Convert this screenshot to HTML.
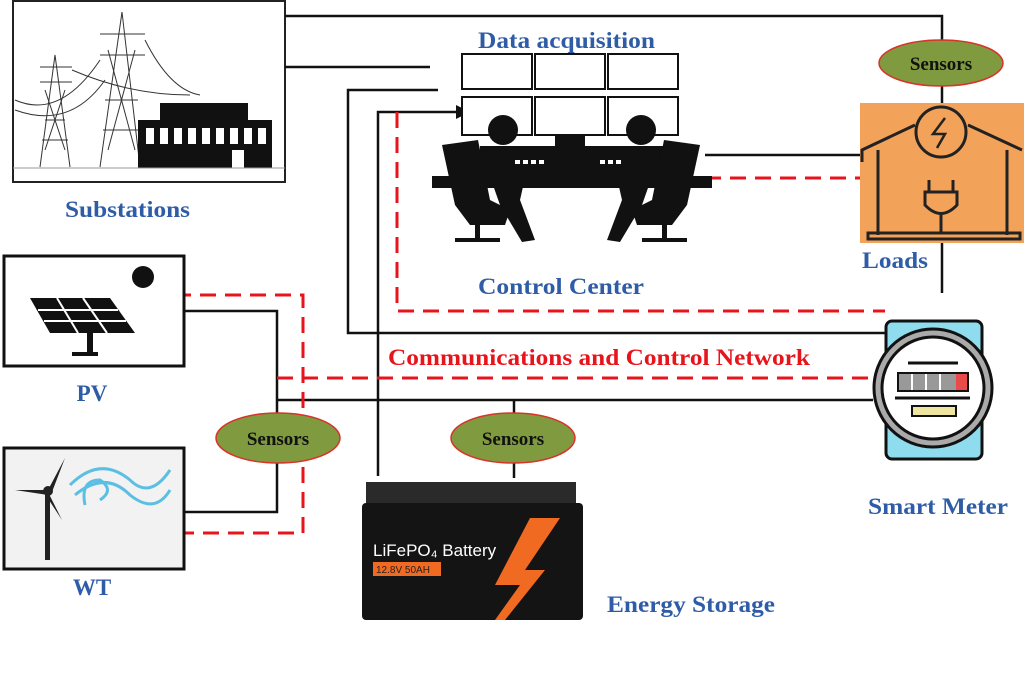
<!DOCTYPE html>
<html><head><meta charset="utf-8"><style>
html,body{margin:0;padding:0;background:#fff;}
svg{display:block}
.lb{font-family:"Liberation Serif",serif;font-weight:bold;font-size:23px;fill:#2f5ca6;}
.sn{font-family:"Liberation Serif",serif;font-weight:bold;font-size:19px;fill:#111;}
</style></head><body>
<svg width="1024" height="680" viewBox="0 0 1024 680" xmlns="http://www.w3.org/2000/svg">
<rect width="1024" height="680" fill="#fff"/>
<!-- substation -->
<rect x="13" y="1" width="272" height="181" fill="#fff" stroke="#222" stroke-width="2"/>
<g stroke="#333" stroke-width="1" fill="none">
<path d="M40 167 L55 55 L70 167 M45 120 L65 120 M40 67 L72 67 M40 82 L72 82 M42 140 L68 140"/>
<path d="M100 167 L122 12 L140 167 M100 34 L145 34 M100 55 L145 55 M105 100 L138 100 M103 130 L140 130"/>
<path d="M15 100 Q60 120 100 60 M15 110 Q70 130 105 80 M72 70 Q130 95 190 95 M145 40 Q170 90 200 95"/>
<path d="M45 90 L65 150 M65 90 L45 150 M108 50 L135 150 M135 50 L108 150"/>
</g>
<rect x="138" y="120" width="134" height="48" fill="#111"/>
<rect x="160" y="103" width="88" height="18" fill="#111"/>
<g fill="#fff"><rect x="146" y="128" width="8" height="16"/><rect x="160" y="128" width="8" height="16"/><rect x="174" y="128" width="8" height="16"/><rect x="188" y="128" width="8" height="16"/><rect x="202" y="128" width="8" height="16"/><rect x="216" y="128" width="8" height="16"/><rect x="230" y="128" width="8" height="16"/><rect x="244" y="128" width="8" height="16"/><rect x="258" y="128" width="8" height="16"/><rect x="232" y="150" width="12" height="18"/></g>
<line x1="13" y1="168" x2="285" y2="168" stroke="#999"/>
<text x="65" y="217" textLength="125" lengthAdjust="spacingAndGlyphs" class="lb">Substations</text>

<!-- connectors black -->
<g stroke="#111" stroke-width="2.5" fill="none">
<polyline points="285,16 942,16 942,42"/>
<line x1="942" y1="86" x2="942" y2="103"/>
<line x1="942" y1="243" x2="942" y2="293"/>
<line x1="285" y1="67" x2="430" y2="67"/>
<polyline points="438,90 348,90 348,333 885,333"/>
<polyline points="378,476 378,112 458,112"/>
<line x1="705" y1="155" x2="860" y2="155"/>
<polyline points="185,311 277,311 277,413"/>
<line x1="277" y1="400" x2="873" y2="400"/>
<polyline points="277,463 277,512 185,512"/>
<line x1="514" y1="400" x2="514" y2="413"/>
<line x1="514" y1="463" x2="514" y2="478"/>
</g>
<polygon points="470,112 456,105 456,119" fill="#111"/>
<!-- red dashed -->
<g stroke="#e8141c" stroke-width="3" fill="none" stroke-dasharray="16,9">
<polyline points="397,112 397,311 885,311"/>
<line x1="705" y1="178" x2="860" y2="178"/>
<polyline points="175,295 303,295 303,533 175,533"/>
<line x1="277" y1="378" x2="870" y2="378"/>
</g>

<!-- monitors -->
<g fill="#fff" stroke="#111" stroke-width="2">
<rect x="462" y="54" width="70" height="35"/><rect x="535" y="54" width="70" height="35"/><rect x="608" y="54" width="70" height="35"/>
<rect x="462" y="97" width="70" height="38"/><rect x="535" y="97" width="70" height="38"/><rect x="608" y="97" width="70" height="38"/>
</g>
<g fill="#111">
<rect x="555" y="134" width="30" height="12"/>
<rect x="480" y="146" width="185" height="40"/>
<rect x="432" y="176" width="280" height="12"/>
<circle cx="503" cy="130" r="15"/><circle cx="641" cy="130" r="15"/>
<path d="M442 145 L478 140 L490 200 L510 210 L505 225 L470 225 L455 205 Z"/>
<path d="M700 145 L664 140 L652 200 L632 210 L637 225 L672 225 L687 205 Z"/>
<path d="M480 148 L500 148 L520 170 L545 170 L545 178 L525 178 L520 200 L535 240 L522 242 L500 205 Z"/>
<path d="M662 148 L642 148 L622 170 L597 170 L597 178 L617 178 L622 200 L607 240 L620 242 L642 205 Z"/>
<rect x="475" y="225" width="5" height="15"/><rect x="662" y="225" width="5" height="15"/>
<rect x="455" y="238" width="45" height="4"/><rect x="642" y="238" width="45" height="4"/>
</g>
<g fill="#fff"><rect x="515" y="160" width="5" height="4"/><rect x="523" y="160" width="5" height="4"/><rect x="531" y="160" width="5" height="4"/><rect x="539" y="160" width="5" height="4"/><rect x="600" y="160" width="5" height="4"/><rect x="608" y="160" width="5" height="4"/><rect x="616" y="160" width="5" height="4"/></g>
<text x="478" y="48" textLength="177" lengthAdjust="spacingAndGlyphs" class="lb">Data acquisition</text>
<text x="478" y="294" textLength="166" lengthAdjust="spacingAndGlyphs" class="lb">Control Center</text>

<!-- loads -->
<rect x="860" y="103" width="164" height="140" fill="#f3a25a"/>
<g stroke="#222" stroke-width="3" fill="none">
<circle cx="941" cy="132" r="25"/>
<path d="M862 162 L862 150 L915 125 M968 125 L1022 150"/>
<path d="M878 150 L878 235 M1007 150 L1007 235"/>
<rect x="868" y="233" width="152" height="6"/>
<path d="M929 180 L929 192 M953 180 L953 192 M925 192 L957 192 L957 205 Q941 222 925 205 Z M941 215 L941 233"/>
<path d="M945 118 L933 134 L945 134 L937 148" stroke-width="2.5"/>
</g>
<text x="862" y="268" textLength="66" lengthAdjust="spacingAndGlyphs" class="lb">Loads</text>

<!-- smart meter -->
<rect x="886" y="321" width="96" height="138" rx="6" fill="#8fdcef" stroke="#111" stroke-width="3"/>
<circle cx="933" cy="388" r="59" fill="#aaa" stroke="#111" stroke-width="3"/>
<circle cx="933" cy="388" r="51" fill="#fff" stroke="#111" stroke-width="3"/>
<rect x="898" y="373" width="70" height="18" fill="#999" stroke="#111" stroke-width="2"/>
<rect x="956" y="374" width="11" height="16" fill="#e94a4a"/>
<g stroke="#fff" stroke-width="2"><line x1="912" y1="374" x2="912" y2="390"/><line x1="926" y1="374" x2="926" y2="390"/><line x1="940" y1="374" x2="940" y2="390"/></g>
<line x1="908" y1="363" x2="958" y2="363" stroke="#111" stroke-width="3"/>
<line x1="895" y1="398" x2="970" y2="398" stroke="#111" stroke-width="3"/>
<rect x="912" y="406" width="44" height="10" fill="#eee6a0" stroke="#111" stroke-width="2"/>
<text x="868" y="514" textLength="140" lengthAdjust="spacingAndGlyphs" class="lb">Smart Meter</text>

<!-- PV -->
<rect x="4" y="256" width="180" height="110" fill="#fff" stroke="#111" stroke-width="3"/>
<circle cx="143" cy="277" r="11" fill="#111"/>
<path d="M30 298 L110 298 L135 333 L50 333 Z" fill="#111"/>
<g stroke="#fff" stroke-width="2"><line x1="57" y1="298" x2="78" y2="333"/><line x1="83" y1="298" x2="107" y2="333"/><line x1="38" y1="310" x2="118" y2="310"/><line x1="44" y1="321" x2="126" y2="321"/></g>
<rect x="87" y="333" width="6" height="20" fill="#111"/><rect x="72" y="352" width="26" height="4" fill="#111"/>
<text x="92" y="401" text-anchor="middle" class="lb">PV</text>

<!-- WT -->
<rect x="4" y="448" width="180" height="121" fill="#f2f2f2" stroke="#111" stroke-width="3"/>
<g fill="#222"><rect x="45" y="490" width="5" height="70"/><path d="M48 490 L65 458 L52 492 Z M48 490 L15 490 L48 495 Z M48 492 L62 520 L45 494 Z"/><circle cx="48" cy="491" r="5"/></g>
<g stroke="#5bbfe4" stroke-width="3" fill="none"><path d="M70 485 Q100 455 130 480 Q150 500 170 470"/><path d="M75 495 Q105 470 130 495 Q155 515 170 490"/><path d="M85 505 Q80 480 100 480 Q115 490 100 500"/></g>
<text x="92" y="595" text-anchor="middle" class="lb">WT</text>

<!-- sensors -->
<g fill="#7f9a3f" stroke="#d9332a" stroke-width="1.5">
<ellipse cx="941" cy="63" rx="62" ry="23"/>
<ellipse cx="278" cy="438" rx="62" ry="25"/>
<ellipse cx="513" cy="438" rx="62" ry="25"/>
</g>
<text x="941" y="70" text-anchor="middle" class="sn">Sensors</text>
<text x="278" y="445" text-anchor="middle" class="sn">Sensors</text>
<text x="513" y="445" text-anchor="middle" class="sn">Sensors</text>

<!-- battery -->
<rect x="366" y="482" width="210" height="24" fill="#2a2a2a"/>
<rect x="362" y="503" width="221" height="117" rx="4" fill="#141414"/>
<path d="M530 518 L560 518 L525 570 L545 570 L505 620 L495 620 L520 585 L495 585 Z" fill="#f06a22"/>
<text x="373" y="556" font-family="Liberation Sans,sans-serif" font-size="17" fill="#fff">LiFePO₄ Battery</text>
<rect x="373" y="562" width="68" height="14" fill="#f06a22"/>
<text x="376" y="573" font-family="Liberation Sans,sans-serif" font-size="10" fill="#222">12.8V 50AH</text>
<text x="607" y="612" textLength="168" lengthAdjust="spacingAndGlyphs" class="lb">Energy Storage</text>

<text x="388" y="365" textLength="422" lengthAdjust="spacingAndGlyphs" font-family="Liberation Serif,serif" font-weight="bold" font-size="23" fill="#e8141c">Communications and Control Network</text>
</svg>
</body></html>
